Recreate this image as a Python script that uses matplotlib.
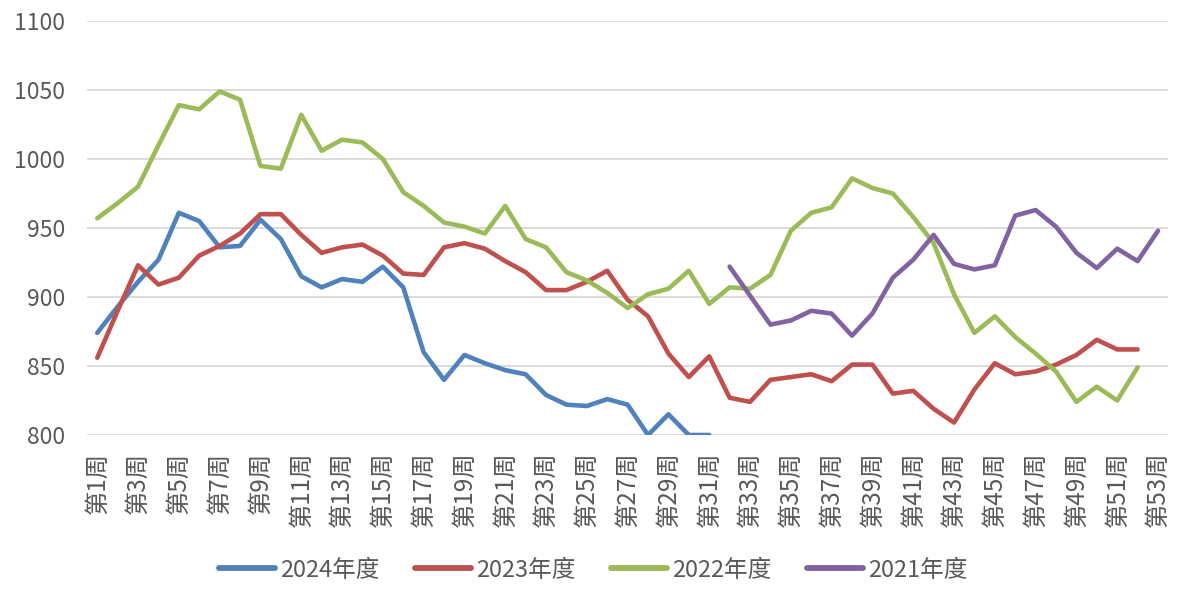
import matplotlib
matplotlib.use("Agg")
import matplotlib.pyplot as plt
import numpy as np

plt.rcParams['font.family'] = ['Noto Sans CJK SC', 'DejaVu Sans']

weeks = list(range(1, 54))
week_labels = [f"第{w}周" for w in weeks]

s2024 = [874, 893, 911, 927, 961, 955, 936, 937, 956, 942, 915, 907, 913, 911, 922, 907,
         860, 840, 858, 852, 847, 844, 829, 822, 821, 826, 822, 800, 815, 800, 800]
s2023 = [856, 890, 923, 909, 914, 930, 937, 946, 960, 960, 945, 932, 936, 938, 930, 917,
         916, 936, 939, 935, 926, 918, 905, 905, 911, 919, 898, 886, 859, 842, 857, 827,
         824, 840, 842, 844, 839, 851, 851, 830, 832, 819, 809, 833, 852, 844, 846, 851,
         858, 869, 862, 862]
s2022 = [957, 968, 980, 1010, 1039, 1036, 1049, 1043, 995, 993, 1032, 1006, 1014, 1012, 1000, 976,
         966, 954, 951, 946, 966, 942, 936, 918, 912, 903, 892, 902, 906, 919, 895, 907,
         906, 916, 948, 961, 965, 986, 979, 975, 958, 939, 902, 874, 886, 871, 859, 846,
         824, 835, 825, 849]
s2021 = [922, 901, 880, 883, 890, 888, 872, 888, 914, 927, 945, 924, 920, 923, 959, 963,
         951, 932, 921, 935, 926, 948]
s2021_start = 32

series = [
    ("2024年度", list(range(1, 1 + len(s2024))), s2024, "#4F81BD"),
    ("2023年度", list(range(1, 1 + len(s2023))), s2023, "#C0504D"),
    ("2022年度", list(range(1, 1 + len(s2022))), s2022, "#9BBB59"),
    ("2021年度", list(range(s2021_start, s2021_start + len(s2021))), s2021, "#8064A2"),
]

fig = plt.figure(figsize=(11.86, 5.95), dpi=100)
ax = fig.add_axes([0.0734, 0.2689, 0.9116, 0.6958])

for name, x, y, c in series:
    ax.plot(x, y, color=c, lw=3.3, label=name, solid_capstyle='round',
            solid_joinstyle='round', clip_on=True)

ax.set_xlim(0.5, 53.5)
ax.set_ylim(800, 1100)
ax.set_yticks(np.arange(800, 1101, 50))
ax.set_xticks(weeks[::2])
ax.set_xticklabels(week_labels[::2], rotation=90, fontsize=17.5, color="#595959")
ax.tick_params(axis='y', labelsize=16.5, labelcolor="#595959", length=0, pad=16)
ax.tick_params(axis='x', length=0, pad=12)
ax.grid(axis='y', color="#D9D9D9", lw=1.3)
ax.set_axisbelow(True)
for s in ax.spines.values():
    s.set_visible(False)

leg = fig.legend(loc='center', bbox_to_anchor=(0.5, 0.042), ncol=4, frameon=False,
                 fontsize=17, handlelength=2.37, handletextpad=0.22, columnspacing=1.5,
                 labelcolor="#595959")
for line in leg.get_lines():
    line.set_linewidth(4.2)

fig.savefig("out.png", dpi=100)
